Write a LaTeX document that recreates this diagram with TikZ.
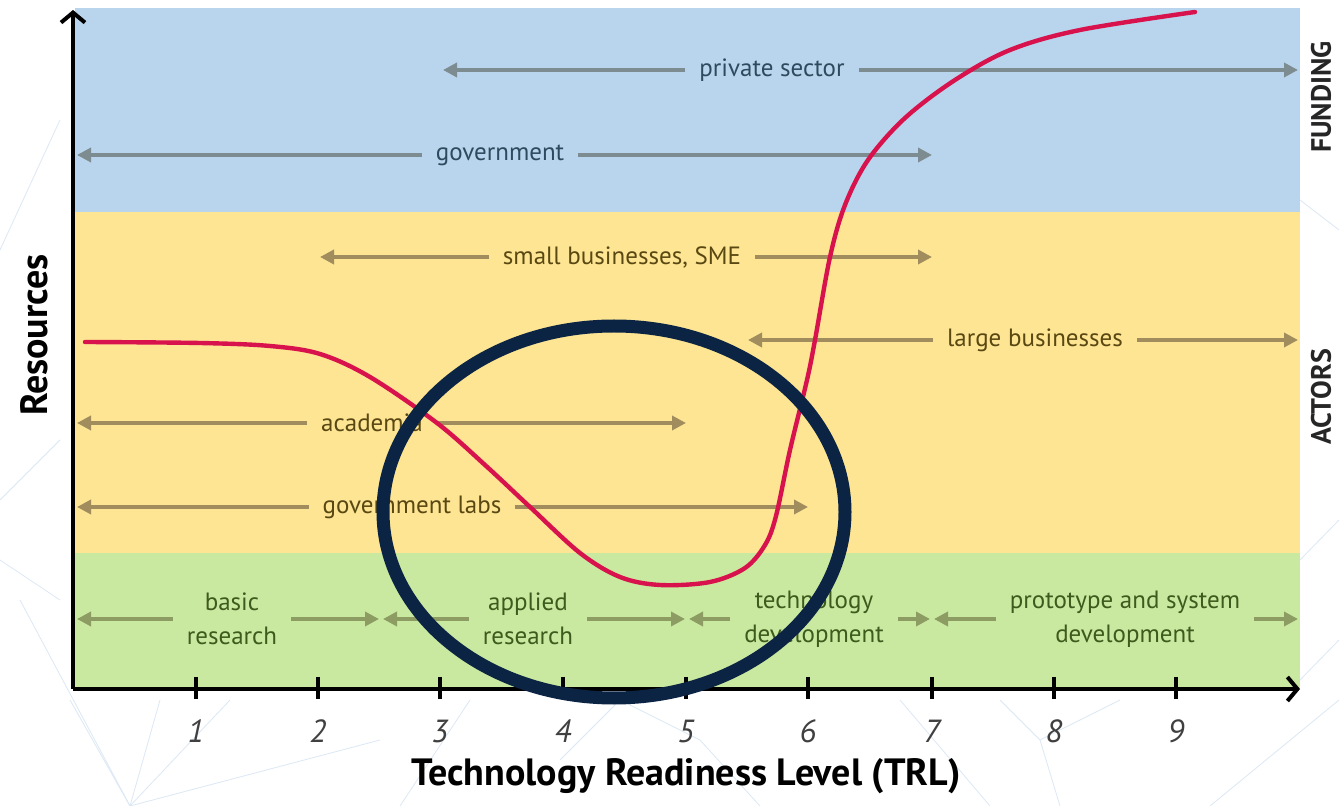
\documentclass[tikz,border=0pt]{standalone}
\usepackage{fontspec}
\setmainfont{PT Sans}
\usetikzlibrary{arrows.meta}
\definecolor{bandblue}{HTML}{B9D5ED}
\definecolor{bandyellow}{HTML}{FDE594}
\definecolor{bandgreen}{HTML}{C9E9A0}
\definecolor{arrblue}{HTML}{7D8C90}
\definecolor{arryellow}{HTML}{A08C5C}
\definecolor{arrgreen}{HTML}{8C9C62}
\definecolor{txtblue}{HTML}{2E4A5E}
\definecolor{txtyellow}{HTML}{5A4812}
\definecolor{txtgreen}{HTML}{3E5A1C}
\definecolor{curvered}{HTML}{D8124C}
\definecolor{navy}{HTML}{0C2444}
\definecolor{faint}{HTML}{DCE8F5}
\tikzset{
  lbl/.style={inner sep=0pt, outer sep=7pt, font=\fontsize{12.5}{13}\selectfont},
  glbl/.style={lbl, align=center, text=txtgreen, font=\fontsize{12.5}{17}\selectfont},
  barr/.style={draw=arrblue, line width=2.2pt, -{Triangle[length=7pt,width=7pt]}},
  yarr/.style={draw=arryellow, line width=2.2pt, -{Triangle[length=7pt,width=7pt]}},
  garr/.style={draw=arrgreen, line width=2.2pt, -{Triangle[length=7pt,width=7pt]}},
  axis/.style={line width=2pt, -{Straight Barb[length=5pt,width=12pt,line width=2pt]}},
  tick/.style={line width=1.8pt},
  ticklbl/.style={font=\fontsize{16}{16}\selectfont\itshape, text=black!75},
  side/.style={font=\fontsize{14}{15}\selectfont\bfseries, rotate=90, text=black!85},
}
\begin{document}
\begin{tikzpicture}[x=0.5pt,y=-0.5pt]
\useasboundingbox (0,0) rectangle (1339,806);
\fill[white] (0,0) rectangle (1339,806);
% faint background lines
\begin{scope}[draw=faint, line width=0.4pt]
\draw (0,250) -- (60,120);
\draw (0,500) -- (60,440);
\draw (130,806) -- (20,600);
\draw (130,806) -- (70,700);
\draw (130,806) -- (160,700);
\draw (130,806) -- (230,700);
\draw (130,806) -- (380,740);
\draw (0,560) -- (60,600);
\draw (400,806) -- (470,700);
\draw (560,760) -- (620,700);
\draw (620,700) -- (700,740) -- (760,806);
\draw (900,700) -- (990,806);
\draw (1000,700) -- (1040,740) -- (1060,806);
\draw (1040,740) -- (1120,700);
\draw (1300,200) -- (1339,230);
\draw (1300,680) -- (1339,640);
\draw (1210,806) -- (1339,700);
\draw (1300,560) -- (1339,520);
\end{scope}
% bands
\fill[bandblue] (75,8) rectangle (1300,212);
\fill[bandyellow] (75,212) rectangle (1300,553);
\fill[bandgreen] (75,553) rectangle (1300,688);
% funding arrows
\coordinate (ps1) at (443,70); \coordinate (ps2) at (1298,70);
\node[lbl, text=txtblue] (ps) at (772,70) {private sector};
\draw[barr] (ps.west) -- (ps1); \draw[barr] (ps.east) -- (ps2);
\coordinate (gv1) at (77,155); \coordinate (gv2) at (932,155);
\node[lbl, text=txtblue] (gv) at (500,155) {government};
\draw[barr] (gv.west) -- (gv1); \draw[barr] (gv.east) -- (gv2);
% actors arrows
\coordinate (sm1) at (320,257); \coordinate (sm2) at (932,257);
\node[lbl, text=txtyellow] (sm) at (622,257) {small businesses, SME};
\draw[yarr] (sm.west) -- (sm1); \draw[yarr] (sm.east) -- (sm2);
\coordinate (lb1) at (748,340); \coordinate (lb2) at (1298,340);
\node[lbl, text=txtyellow] (lb) at (1035,340) {large businesses};
\draw[yarr] (lb.west) -- (lb1); \draw[yarr] (lb.east) -- (lb2);
\coordinate (ac1) at (77,423); \coordinate (ac2) at (686,423);
\node[lbl, text=txtyellow] (ac) at (372,423) {academia};
\draw[yarr] (ac.west) -- (ac1); \draw[yarr] (ac.east) -- (ac2);
\coordinate (gl1) at (77,507); \coordinate (gl2) at (808,507);
\node[lbl, text=txtyellow] (gl) at (412,507) {government labs};
\draw[yarr] (gl.west) -- (gl1); \draw[yarr] (gl.east) -- (gl2);
% stage arrows
\coordinate (br1) at (77,619); \coordinate (br2) at (379,619);
\node[glbl] (br) at (232,619) {basic\\research};
\draw[garr] (br.west) -- (br1); \draw[garr] (br.east) -- (br2);
\coordinate (ar1) at (383,619); \coordinate (ar2) at (685,619);
\node[glbl] (ar) at (528,619) {applied\\research};
\draw[garr] (ar.west) -- (ar1); \draw[garr] (ar.east) -- (ar2);
\coordinate (td1) at (689,619); \coordinate (td2) at (930,619);
\node[glbl] (td) at (814,619) {technology\\development};
\draw[garr] (td.west) -- (td1); \draw[garr] (td.east) -- (td2);
\coordinate (pd1) at (934,619); \coordinate (pd2) at (1298,619);
\node[glbl] (pd) at (1125,619) {prototype and system\\development};
\draw[garr] (pd.west) -- (pd1); \draw[garr] (pd.east) -- (pd2);
% red curve
\draw[curvered, line width=2.2pt, line cap=round] plot[smooth, tension=0.55] coordinates {
(85,342) (200,343) (270,346) (320,354) (370,377) (437,423) (485,465) (530,507) (580,553) (620,577) (660,585) (710,582) (745,568) (765,545) (776,516) (790,450) (807,380) (815,340) (830,257) (845,205) (868,160) (905,118) (955,80) (1010,50) (1080,30) (1195,12)};
% axes
\coordinate (origin) at (73,689);
\coordinate (ytop) at (73,10);
\coordinate (xend) at (1300,689);
\draw[axis] (origin) -- (ytop);
\draw[axis] (origin) -- (xend);
\foreach \i/\x in {1/196,2/318,3/440,4/563,5/686,6/808,7/932,8/1054,9/1176}{
  \draw[tick] (\x,677) -- (\x,699);
  \node[ticklbl] (t\i) at (\x,731) {\i};
}
\node[font=\fontsize{19}{20}\selectfont\bfseries] (xl) at (686,776) {Technology Readiness Level (TRL)};
\node[font=\fontsize{19}{20}\selectfont\bfseries, rotate=90] (yl) at (34,335) {Resources};
\node[side] (fund) at (1321,97) {FUNDING};
\node[side] (act) at (1321,397) {ACTORS};
% highlight ellipse
\draw[navy, line width=6.5pt] (614,512) ellipse [x radius=231, y radius=186];
\end{tikzpicture}
\end{document}
